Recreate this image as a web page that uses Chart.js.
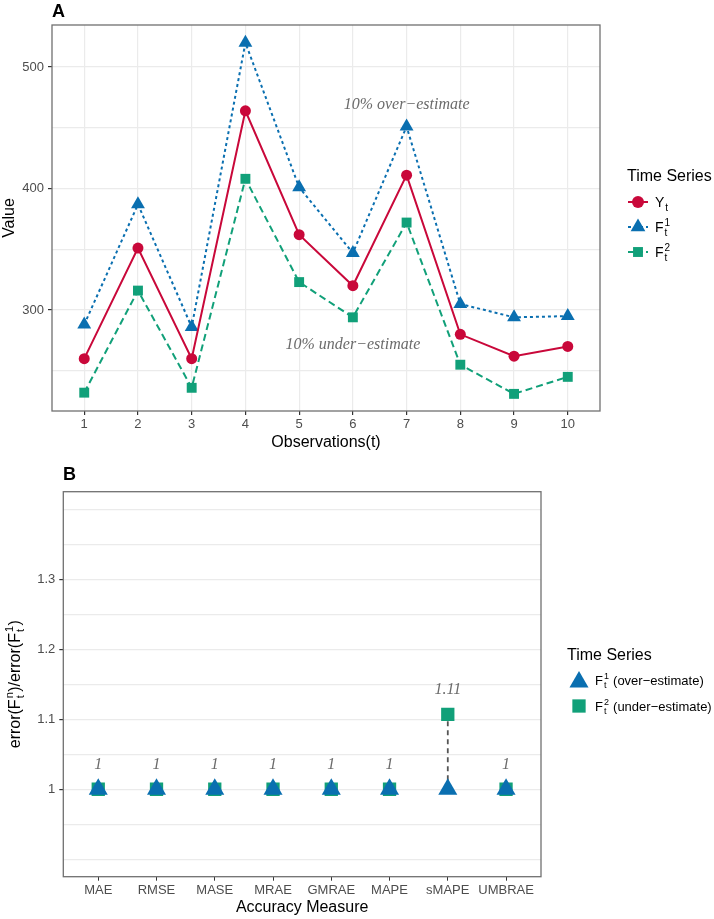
<!DOCTYPE html>
<html>
<head>
<meta charset="utf-8">
<script src="https://cdn.jsdelivr.net/npm/chart.js@4/dist/chart.umd.min.js"></script>
<style>
  body { margin: 0; background: #fff; }
  canvas { position: absolute; left: 0; }
</style>
</head>
<body>
<canvas id="chartA" width="714" height="460" style="top:0"></canvas>
<canvas id="chartB" width="714" height="464" style="top:455px"></canvas>
<script>
// panel A data
const obsA = [1, 2, 3, 4, 5, 6, 7, 8, 9, 10]
const actualY = [260, 351, 260, 464, 362, 320, 411, 280, 262, 270]
const overF1 = [288, 387, 286, 520, 401, 347, 451, 305, 294, 295]
const underF2 = [232, 316, 236, 408, 323, 294, 372, 255, 231, 245]
const gridA = [250, 300, 350, 400, 450, 500]
const labelsA = [300, 400, 500]
const noteTextA = ['10% over\u2212estimate', '10% under\u2212estimate']
const noteXA = [7, 6]
const noteYA = [469, 271]

// panel B data
const measures = ['MAE', 'RMSE', 'MASE', 'MRAE', 'GMRAE', 'MAPE', 'sMAPE', 'UMBRAE']
const ratioF1 = [1, 1, 1, 1, 1, 1, 1, 1]
const ratioF2 = [1, 1, 1, 1, 1, 1, 1.107, 1]
const gridB = [0.9, 0.95, 1, 1.05, 1.1, 1.15, 1.2, 1.25, 1.3, 1.35, 1.4]
const labelsB = [1, 1.1, 1.2, 1.3]

// colours / fonts
const RED = '#c9083a'
const BLUE = '#0a6fb0'
const GREEN = '#11a079'
const SANS = '"Liberation Sans", Arial, sans-serif'
const SERIF = '"Liberation Serif", "Times New Roman", serif'
const TICK_COL = '#4d4d4d'
const GRID_COL = '#ebebeb'
const BORDER_COL = '#707070'

Chart.defaults.font.family = SANS

// text with stacked sub/superscripts, e.g. F_t^1
function richWidth(ctx, parts, size) {
  let w = 0
  parts.forEach(p => {
    if (p.t) {
      ctx.font = size + 'px ' + SANS
      w += ctx.measureText(p.t).width
    } else {
      ctx.font = Math.round(size * 0.68) + 'px ' + SANS
      w += Math.max(ctx.measureText(p.sub || '').width, ctx.measureText(p.sup || '').width) + 1.5
    }
  })
  return w
}

function drawRich(ctx, parts, x, y, size, align, color) {
  const w = richWidth(ctx, parts, size)
  let cx = align === 'center' ? x - w / 2 : x
  const base = y + size * 0.36
  ctx.fillStyle = color || '#000'
  ctx.textAlign = 'left'
  ctx.textBaseline = 'alphabetic'
  parts.forEach(p => {
    if (p.t) {
      ctx.font = size + 'px ' + SANS
      ctx.fillText(p.t, cx, base)
      cx += ctx.measureText(p.t).width
    } else {
      ctx.font = Math.round(size * 0.68) + 'px ' + SANS
      if (p.sup) ctx.fillText(p.sup, cx + 1, base - size * 0.42)
      if (p.sub) ctx.fillText(p.sub, cx + 1, base + size * 0.28)
      cx += Math.max(ctx.measureText(p.sub || '').width, ctx.measureText(p.sup || '').width) + 1.5
    }
  })
}

function marker(ctx, style, x, y, r, color) {
  ctx.fillStyle = color
  ctx.beginPath()
  if (style === 'circle') {
    ctx.arc(x, y, r, 0, Math.PI * 2)
  } else if (style === 'triangle') {
    ctx.moveTo(x, y - r)
    ctx.lineTo(x + r * Math.sqrt(3) / 2, y + r / 2)
    ctx.lineTo(x - r * Math.sqrt(3) / 2, y + r / 2)
    ctx.closePath()
  } else {
    const s = r * Math.SQRT1_2
    ctx.rect(x - s, y - s, 2 * s, 2 * s)
  }
  ctx.fill()
}

function panelBorder(chart) {
  const a = chart.chartArea
  const ctx = chart.ctx
  ctx.save()
  ctx.strokeStyle = BORDER_COL
  ctx.lineWidth = 1.3
  ctx.strokeRect(a.left, a.top, a.right - a.left, a.bottom - a.top)
  ctx.restore()
}

const panelA = {
  id: 'panelA',
  afterDraw(chart) {
    const ctx = chart.ctx
    const {x, y} = chart.scales
    panelBorder(chart)
    ctx.save()
    // notes
    ctx.font = 'italic 16px ' + SERIF
    ctx.fillStyle = '#6b6b6b'
    ctx.textAlign = 'center'
    ctx.textBaseline = 'middle'
    noteTextA.forEach((t, i) => {
      ctx.fillText(t, x.getPixelForValue(noteXA[i]), y.getPixelForValue(noteYA[i]))
    })
    // panel tag
    ctx.font = 'bold 18px ' + SANS
    ctx.fillStyle = '#000'
    ctx.textAlign = 'left'
    ctx.fillText('A', 52, 12)
    // legend
    ctx.font = '16px ' + SANS
    ctx.fillText('Time Series', 627, 177)
    const items = [
      {parts: [{t: 'Y'}, {sub: 't'}], color: RED, style: 'circle', r: 6, dash: []},
      {parts: [{t: 'F'}, {sub: 't', sup: '1'}], color: BLUE, style: 'triangle', r: 8.5, dash: [3, 3]},
      {parts: [{t: 'F'}, {sub: 't', sup: '2'}], color: GREEN, style: 'rect', r: 7, dash: [6, 3]}
    ]
    items.forEach((it, i) => {
      const ly = 202 + i * 25
      ctx.strokeStyle = it.color
      ctx.lineWidth = 2
      ctx.setLineDash(it.dash)
      ctx.beginPath()
      ctx.moveTo(628, ly)
      ctx.lineTo(648, ly)
      ctx.stroke()
      ctx.setLineDash([])
      marker(ctx, it.style, 638, ly, it.r, it.color)
      drawRich(ctx, it.parts, 655, ly, 14, 'left', '#000')
    })
    ctx.restore()
  }
}

const panelB = {
  id: 'panelB',
  afterDraw(chart) {
    const ctx = chart.ctx
    const {x, y} = chart.scales
    panelBorder(chart)
    ctx.save()
    // value labels above each measure
    ctx.font = 'italic 16px ' + SERIF
    ctx.fillStyle = '#6b6b6b'
    ctx.textAlign = 'center'
    ctx.textBaseline = 'middle'
    ratioF2.forEach((v, i) => {
      const txt = String(Math.round(v * 100) / 100)
      ctx.fillText(txt, x.getPixelForValue(i + 1), y.getPixelForValue(Math.max(v, ratioF1[i]) + 0.035))
    })
    // panel tag
    ctx.font = 'bold 18px ' + SANS
    ctx.fillStyle = '#000'
    ctx.textAlign = 'left'
    ctx.fillText('B', 63, 20)
    // y title
    ctx.save()
    ctx.translate(14, (chart.chartArea.top + chart.chartArea.bottom) / 2)
    ctx.rotate(-Math.PI / 2)
    drawRich(ctx, [{t: 'error(F'}, {sub: 't', sup: 'n'}, {t: ')/error(F'}, {sub: 't', sup: '1'}, {t: ')'}], 0, 0, 16, 'center', '#000')
    ctx.restore()
    // legend
    ctx.font = '16px ' + SANS
    ctx.fillStyle = '#000'
    ctx.textAlign = 'left'
    ctx.textBaseline = 'middle'
    ctx.fillText('Time Series', 567, 200.5)
    marker(ctx, 'triangle', 579, 227, 11, BLUE)
    drawRich(ctx, [{t: 'F'}, {sub: 't', sup: '1'}, {t: ' (over\u2212estimate)'}], 595, 225, 13, 'left', '#000')
    marker(ctx, 'rect', 579, 251, 9.4, GREEN)
    drawRich(ctx, [{t: 'F'}, {sub: 't', sup: '2'}, {t: ' (under\u2212estimate)'}], 595, 251, 13, 'left', '#000')
    ctx.restore()
  }
}

const tickFont = {size: 13}

new Chart(document.getElementById('chartA'), {
  type: 'line',
  data: {
    datasets: [
      {
        label: 'Y',
        data: obsA.map((v, i) => ({x: v, y: actualY[i]})),
        borderColor: RED, backgroundColor: RED, borderWidth: 2,
        pointStyle: 'circle', pointRadius: 5.5, pointBorderWidth: 0
      },
      {
        label: 'F1',
        data: obsA.map((v, i) => ({x: v, y: overF1[i]})),
        borderColor: BLUE, backgroundColor: BLUE, borderWidth: 2, borderDash: [3, 3],
        pointStyle: 'triangle', pointRadius: 8, pointBorderWidth: 0
      },
      {
        label: 'F2',
        data: obsA.map((v, i) => ({x: v, y: underF2[i]})),
        borderColor: GREEN, backgroundColor: GREEN, borderWidth: 2, borderDash: [7, 4],
        pointStyle: 'rect', pointRadius: 7, pointBorderWidth: 0
      }
    ]
  },
  options: {
    responsive: false,
    animation: false,
    layout: {padding: {left: 0, top: 25, right: 114, bottom: 8.3}},
    plugins: {legend: {display: false}, tooltip: {enabled: false}},
    scales: {
      x: {
        type: 'linear', min: 0.4, max: 10.6,
        afterBuildTicks: s => { s.ticks = obsA.map(v => ({value: v})) },
        afterFit: s => { s.height = 40.7 },
        ticks: {color: TICK_COL, font: tickFont, padding: 1.5, autoSkip: false, maxRotation: 0},
        grid: {color: GRID_COL, lineWidth: 1.2, tickLength: 4, tickColor: '#333'},
        border: {display: false},
        title: {display: true, text: 'Observations(t)', color: '#000', font: {size: 16}, padding: 0}
      },
      y: {
        min: 216.9, max: 534.6,
        afterBuildTicks: s => { s.ticks = gridA.map(v => ({value: v})) },
        afterFit: s => { s.width = 52 },
        ticks: {color: TICK_COL, font: tickFont, padding: 4, callback: v => labelsA.includes(v) ? String(v) : ''},
        grid: {
          color: GRID_COL, lineWidth: 1.2, tickLength: 4,
          tickColor: c => labelsA.includes(c.tick && c.tick.value) ? '#333' : 'rgba(0,0,0,0)'
        },
        border: {display: false},
        title: {display: true, text: 'Value', color: '#000', font: {size: 16}, padding: 0}
      }
    }
  },
  plugins: [panelA]
})

// dashed connectors where the two forecasts differ
const connector = []
ratioF2.forEach((v, i) => {
  if (v !== ratioF1[i]) {
    connector.push({x: i + 1, y: ratioF1[i]}, {x: i + 1, y: v}, {x: i + 1, y: null})
  }
})

new Chart(document.getElementById('chartB'), {
  type: 'line',
  data: {
    datasets: [
      {
        label: 'F1',
        data: measures.map((m, i) => ({x: i + 1, y: ratioF1[i]})),
        showLine: false, backgroundColor: BLUE, borderColor: BLUE,
        pointStyle: 'triangle', pointRadius: 11, pointBorderWidth: 0
      },
      {
        label: 'F2',
        data: measures.map((m, i) => ({x: i + 1, y: ratioF2[i]})),
        showLine: false, backgroundColor: GREEN, borderColor: GREEN,
        pointStyle: 'rect', pointRadius: 9.4, pointBorderWidth: 0
      },
      {
        label: 'gap',
        data: connector,
        borderColor: '#555', borderWidth: 1.8, borderDash: [5, 4],
        pointRadius: 0, spanGaps: false
      }
    ]
  },
  options: {
    responsive: false,
    animation: false,
    layout: {padding: {left: 0, top: 36.7, right: 173, bottom: 1.7}},
    plugins: {legend: {display: false}, tooltip: {enabled: false}},
    scales: {
      x: {
        type: 'linear', min: 0.4, max: 8.6,
        afterBuildTicks: s => { s.ticks = measures.map((m, i) => ({value: i + 1})) },
        afterFit: s => { s.height = 40.6 },
        ticks: {color: TICK_COL, font: tickFont, padding: 1.5, autoSkip: false, maxRotation: 0,
          callback: v => measures[v - 1]},
        grid: {drawOnChartArea: false, tickLength: 4, tickColor: '#333'},
        border: {display: false},
        title: {display: true, text: 'Accuracy Measure', color: '#000', font: {size: 16}, padding: 0}
      },
      y: {
        min: 0.8751, max: 1.4251,
        afterBuildTicks: s => { s.ticks = gridB.map(v => ({value: v})) },
        afterFit: s => { s.width = 63.3 },
        ticks: {color: TICK_COL, font: tickFont, padding: 4,
          callback: v => labelsB.some(l => Math.abs(l - v) < 1e-9) ? String(v) : ''},
        grid: {
          color: GRID_COL, lineWidth: 1.2, tickLength: 4,
          tickColor: c => c.tick && labelsB.some(l => Math.abs(l - c.tick.value) < 1e-9) ? '#333' : 'rgba(0,0,0,0)'
        },
        border: {display: false},
        title: {display: false}
      }
    }
  },
  plugins: [panelB]
})
</script>
</body>
</html>
